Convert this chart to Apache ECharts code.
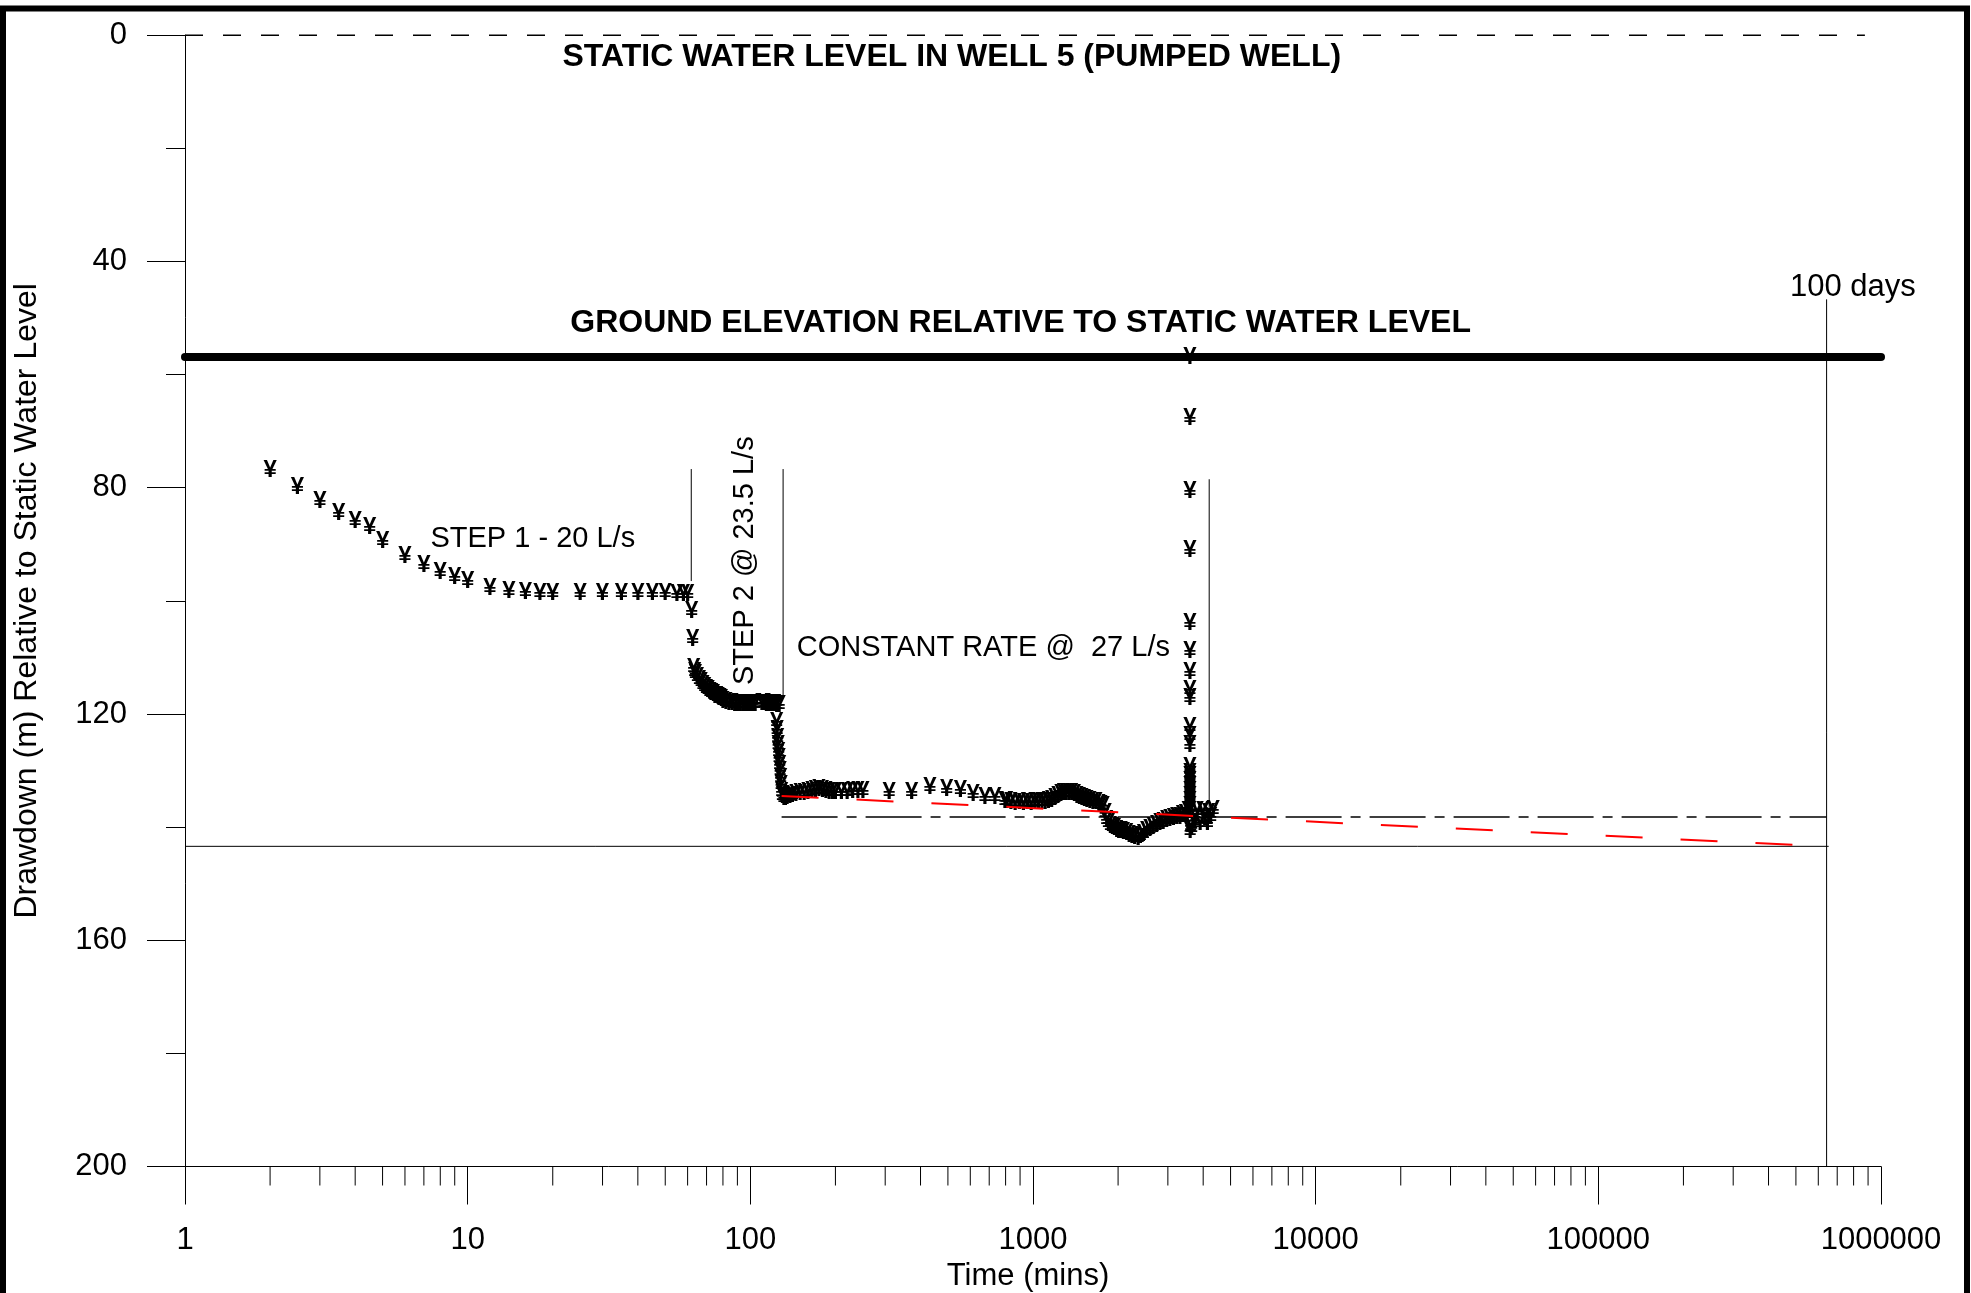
<!DOCTYPE html>
<html><head><meta charset="utf-8">
<script src="https://cdn.jsdelivr.net/npm/echarts@6/dist/echarts.min.js"></script>
<style>html,body{margin:0;padding:0;background:#fff}#c{width:1971px;height:1293px}</style>
</head><body><div id="c"></div>
<script>
// ---------- DATA ----------
const xTickLabels = ['1','10','100','1000','10000','100000','1000000'];
const yTickLabels = ['0','40','80','120','160','200'];

const step1Time = [2,2.5,3,3.5,4,4.5,5,6,7,8,9,10,12,14,16,18,20,25,30,35,40,45,50,55,58,60];
const step1Drawdown = [77.0,80.0,82.5,84.5,86.0,87.0,89.4,92.1,93.7,94.9,95.8,96.6,97.8,98.3,98.5,98.6,98.7,98.7,98.7,98.7,98.7,98.7,98.7,98.8,98.8,98.9];

const step2Time = [62,62.5,63,63.5,64,65,66,67,68,69,70,71,72,73,74,75,76,77,78,79,80,82,84,86,88,90,92,94,96,98,100,102,104,110,112,114,116,118,120,122,124,126.5,124,124.5,125,125.5,126,126.5,127,127.5,128,128.5,129];
const step2Drawdown = [101.9,106.8,112.0,112.6,113.0,113.6,114.1,114.5,114.9,115.3,115.6,115.9,116.2,116.4,116.6,116.8,116.9,117.1,117.3,117.5,117.7,117.9,118.1,118.2,118.3,118.3,118.3,118.3,118.3,118.3,118.3,118.3,118.3,118.2,118.2,118.3,118.3,118.3,118.3,118.3,118.4,118.4,121.4,122.9,124.3,125.5,126.7,127.9,129.1,130.2,131.4,132.6,133.8];

const constTime = [130,131.5,133,135,138,141,145,150,155,160,165,170,175,180,185,190,195,200,210,220,230,240,250,310,372,432,495,554,614,676,733,795,807,835,865,895,925,955,985,1015,1045,1075,1105,1135,1165,1195,1225,1255,1280,1310,1340,1370,1400,1430,1460,1490,1520,1550,1590,1630,1670,1710,1740,1771,1800,1821,1850,1880,1910,1940,1976,2010,2050,2090,2143,2190,2240,2290,2355,2400,2460,2522,2590,2660,2736,2810,2890,2970,3050,3140,3220,3308,3380,3460,3540];
const constDrawdown = [134.5,134.9,135.0,134.8,134.6,134.4,134.3,134.1,134.0,133.9,133.7,133.5,133.4,133.5,133.7,133.8,133.8,133.8,133.8,133.8,133.7,133.7,133.6,133.9,133.9,133.0,133.3,133.5,134.2,134.8,134.7,135.5,135.5,135.7,135.8,135.7,135.8,135.7,135.8,135.7,135.7,135.6,135.6,135.4,135.2,134.9,134.6,134.3,134.1,134.0,134.0,134.1,134.3,134.5,134.7,134.9,135.1,135.3,135.5,135.6,135.7,135.9,136.1,136.4,137.6,138.8,139.4,139.8,140.1,140.3,140.5,140.7,140.8,141.0,141.1,141.4,141.6,141.8,142.0,141.6,141.2,140.8,140.4,140.0,139.7,139.4,139.1,138.8,138.6,138.4,138.3,138.2,137.9,137.7,137.3];

const recoveryTime = [3590,3590,3590,3590,3590,3590,3590,3590,3590,3590,3590,3590,3590,3590,3590,3590,3590,3590,3590,3590,3590,3590,3600,3610,3640,3700,3750,3810,3900,3990,4050,4140,4180,4250,4340];
const recoveryDrawdown = [137.3,136.4,135.5,134.6,133.7,132.8,131.9,131.1,130.5,129.4,125.5,124.0,122.3,117.3,115.8,112.6,109.0,104.0,91.0,80.7,67.7,56.9,140.8,139.8,140.2,139.0,138.3,137.3,139.4,137.3,138.5,139.4,137.6,138.2,137.0];

// reference lines
const staticLineTime = [1, 877000];      const staticLineDrawdown = [0, 0];
const groundLineTime = [1, 1000000];     const groundLineDrawdown = [56.9, 56.9];
const fitLineTime = [129, 516000];       const fitLineDrawdown = [134.5, 143.2];
const dashDotTime = [129, 642000];       const dashDotDrawdown = [138.2, 138.2];
const limitLineTime = [1, 653000];       const limitLineDrawdown = [143.4, 143.4];
const markerLineTime = [61.8, 130.6, 4201, 642000];
const markerLineTop = [76.7, 76.7, 78.5, 46.7];
const markerLineBottom = [96.5, 117.3, 138.2, 200];

// annotations
const annotationText = ['STATIC WATER LEVEL IN WELL 5 (PUMPED WELL)','GROUND ELEVATION RELATIVE TO STATIC WATER LEVEL','STEP 1 - 20 L/s','STEP 2 @ 23.5 L/s','CONSTANT RATE @  27 L/s','100 days'];
const annotationTime = [516, 904, 17.0, 95.7, 667.5, 795000];
const annotationDrawdown = [3.9, 50.9, 89.1, 92.9, 108.3, 44.6];

// ---------- BUILD ----------
const FONT = '"Liberation Sans", Arial, Helvetica, sans-serif';
const zip = (a, b) => a.map((v, i) => [v, b[i]]);
const points = [].concat(
  zip(step1Time, step1Drawdown), zip(step2Time, step2Drawdown),
  zip(constTime, constDrawdown), zip(recoveryTime, recoveryDrawdown));

const xMinorTicks = [];
for (let d = 1; d < 1000000; d *= 10) for (let m = 2; m <= 9; m++) xMinorTicks.push([d * m, 200]);

function lineSeries(t, y, style, z) {
  return {type: 'line', data: zip(t, y), symbol: 'none', silent: true, z: z || 2,
          lineStyle: style, clip: false, animation: false};
}

const series = [];
series.push(lineSeries(staticLineTime, staticLineDrawdown, {color: '#000', width: 1.5, type: [18, 20]}));
series.push(lineSeries(groundLineTime, groundLineDrawdown, {color: '#000', width: 8, cap: 'round'}));
series.push(lineSeries(limitLineTime, limitLineDrawdown, {color: '#000', width: 1}));
series.push(lineSeries(dashDotTime, dashDotDrawdown, {color: '#000', width: 1.5, type: [56, 9, 10, 9]}));
markerLineTime.forEach((t, i) => {
  series.push(lineSeries([t, t], [markerLineTop[i], markerLineBottom[i]], {color: '#000', width: 1}));
});
series.push({
  type: 'scatter', data: points, symbolSize: 1, silent: true, z: 3,
  itemStyle: {color: 'rgba(0,0,0,0)', opacity: 1},
  label: {show: true, position: 'inside', formatter: '\u00a5', color: '#000', opacity: 1,
          fontSize: 24, fontWeight: 'bold', fontFamily: FONT, align: 'center', verticalAlign: 'middle',
          textBorderWidth: 0},
  labelLayout: {hideOverlap: false}
});
series.push(lineSeries(fitLineTime, fitLineDrawdown, {color: '#ff0000', width: 2, type: [37, 38]}, 4));
series.push({
  type: 'custom', coordinateSystem: 'cartesian2d', clip: false, silent: true, z: 2,
  data: xMinorTicks,
  renderItem: (p, api) => {
    const c = api.coord([api.value(0), api.value(1)]);
    return {type: 'line', shape: {x1: c[0], y1: c[1], x2: c[0], y2: c[1] + 19},
            style: {stroke: '#000', lineWidth: 1}};
  }
});
series.push({
  type: 'scatter', symbolSize: 1, silent: true, z: 5,
  itemStyle: {color: 'rgba(0,0,0,0)', opacity: 1},
  data: annotationText.map((txt, i) => ({
    value: [annotationTime[i], annotationDrawdown[i]],
    label: {
      show: true, position: 'inside', formatter: txt, color: '#000', opacity: 1, fontFamily: FONT,
      fontSize: (i < 2 ? 32 : (i === 5 ? 31 : 29)), fontWeight: (i < 2 ? 'bold' : 'normal'),
      rotate: (i === 3 ? 90 : 0), align: 'center', verticalAlign: 'middle', textBorderWidth: 0
    }
  }))
});

const chart = echarts.init(document.getElementById('c'), null, {renderer: 'canvas'});
chart.setOption({
  animation: false,
  backgroundColor: '#fff',
  textStyle: {fontFamily: FONT, color: '#000'},
  grid: {left: 185, right: 90, top: 35.2, bottom: 126.5, containLabel: false, outerBoundsMode: 'none'},
  xAxis: {
    type: 'log', logBase: 10, min: 1, max: 1000000,
    axisLine: {show: true, onZero: false, lineStyle: {color: '#000', width: 1}},
    axisTick: {show: true, length: 38, lineStyle: {color: '#000', width: 1}},
    minorTick: {show: false},
    axisLabel: {show: true, margin: 58, fontSize: 31, color: '#000', fontFamily: FONT,
                formatter: v => xTickLabels[Math.round(Math.log10(v))]},
    splitLine: {show: false}, minorSplitLine: {show: false},
    name: 'Time (mins)', nameLocation: 'middle', nameGap: 94,
    nameTextStyle: {fontSize: 31, color: '#000', fontFamily: FONT, padding: [0, 10, 0, 0]}
  },
  yAxis: {
    type: 'value', inverse: true, min: 0, max: 200, interval: 40,
    axisLine: {show: true, lineStyle: {color: '#000', width: 1}},
    axisTick: {show: true, length: 38, lineStyle: {color: '#000', width: 1}},
    minorTick: {show: true, splitNumber: 2, length: 19, lineStyle: {color: '#000', width: 1}},
    axisLabel: {show: true, margin: 58, fontSize: 31, color: '#000', fontFamily: FONT,
                formatter: v => yTickLabels[Math.round(v / 40)]},
    splitLine: {show: false}, minorSplitLine: {show: false},
    name: 'Drawdown (m) Relative to Static Water Level', nameLocation: 'middle', nameGap: 142,
    nameTextStyle: {fontSize: 32, color: '#000', fontFamily: FONT}
  },
  graphic: [{type: 'rect', z: 100, silent: true,
             shape: {x: 3, y: 8.5, width: 1964, height: 1400},
             style: {fill: 'none', stroke: '#000', lineWidth: 6}}],
  series: series
});
</script></body></html>
